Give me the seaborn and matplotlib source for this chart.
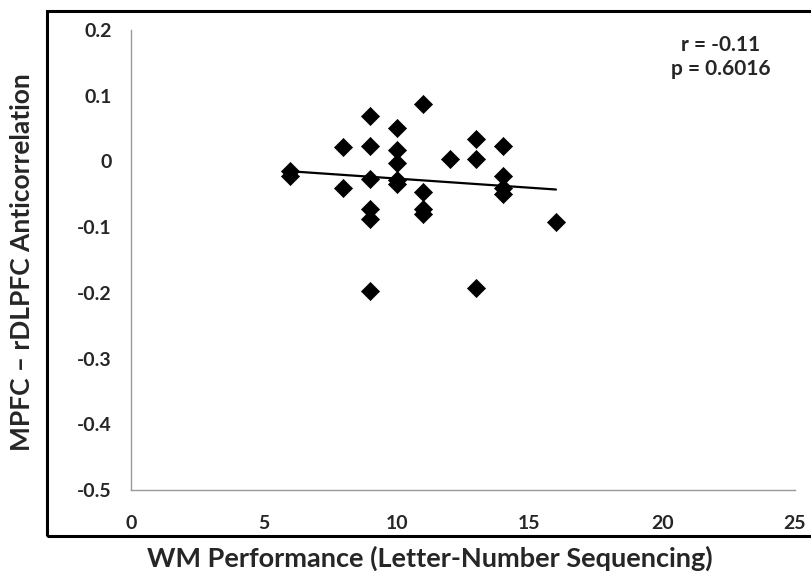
import matplotlib
matplotlib.use("Agg")
import matplotlib.pyplot as plt
import seaborn as sns
import pandas as pd
from matplotlib.patches import Rectangle

# Data
wm_score = [6, 6, 8, 8, 9, 9, 9, 9, 9, 9, 10, 10, 10, 10, 10,
            11, 11, 11, 11, 12, 13, 13, 13, 14, 14, 14, 14, 16]
anticorr = [-0.014, -0.022, 0.022, -0.041, 0.069, 0.024, -0.026, -0.072, -0.088, -0.197,
            0.051, 0.018, -0.003, -0.028, -0.034,
            0.087, -0.046, -0.073, -0.080, 0.004, 0.034, 0.004, -0.192,
            0.024, -0.022, -0.040, -0.050, -0.092]
x_ticks = [0, 5, 10, 15, 20, 25]
y_ticks = [0.2, 0.1, 0, -0.1, -0.2, -0.3, -0.4, -0.5]
y_tick_labels = ["0.2", "0.1", "0", "-0.1", "-0.2", "-0.3", "-0.4", "-0.5"]
stats_text = "r = -0.11\np = 0.6016"

df = pd.DataFrame({"wm": wm_score, "ac": anticorr})

sns.set_style("white")
plt.rcParams["font.family"] = ["Lato", "DejaVu Sans"]
plt.rcParams["font.weight"] = "bold"

fig = plt.figure(figsize=(8.12, 5.79), dpi=100)
ax = fig.add_axes([131 / 812, 1 - 490 / 579, (795 - 131) / 812, (490 - 30) / 579])

sns.regplot(data=df, x="wm", y="ac", ax=ax, ci=None, marker="D",
            scatter_kws={"s": 85, "color": "black", "edgecolor": "black", "linewidths": 0.5,
                         "alpha": 1.0, "zorder": 3},
            line_kws={"color": "black", "linewidth": 1.6, "zorder": 2})

ax.set_xlim(0, 25)
ax.set_ylim(-0.5, 0.2)
ax.set_xticks(x_ticks)
ax.set_xticklabels([str(t) for t in x_ticks], fontsize=14, fontweight="bold")
ax.set_yticks(y_ticks)
ax.set_yticklabels(y_tick_labels, fontsize=14, fontweight="bold")
ax.tick_params(axis="both", direction="out", length=5, width=0.8, color="#888888")
ax.tick_params(axis="y", pad=9)
ax.tick_params(axis="x", pad=13)
for s in ["top", "right"]:
    ax.spines[s].set_visible(False)
for s in ["left", "bottom"]:
    ax.spines[s].set_color("#999999")
    ax.spines[s].set_linewidth(1.0)

ax.set_xlabel("")
ax.set_ylabel("")
fig.text(22 / 812, 1 - 262 / 579, "MPFC \u2013 rDLPFC Anticorrelation", rotation=90,
         ha="center", va="center", fontsize=19, fontweight="bold")
fig.text(430 / 812, 1 - 558 / 579, "WM Performance (Letter-Number Sequencing)",
         ha="center", va="center", fontsize=19.5, fontweight="bold")
fig.text(721 / 812, 1 - 57 / 579, stats_text, ha="center", va="center",
         fontsize=15, fontweight="bold", linespacing=1.3)

fig.patches.append(Rectangle((47 / 812, 1 - 536 / 579), (812 - 47 + 5) / 812, (536 - 11) / 579,
                             transform=fig.transFigure, fill=False, edgecolor="black",
                             linewidth=2.2, zorder=10))

fig.savefig("out.png", dpi=100)
